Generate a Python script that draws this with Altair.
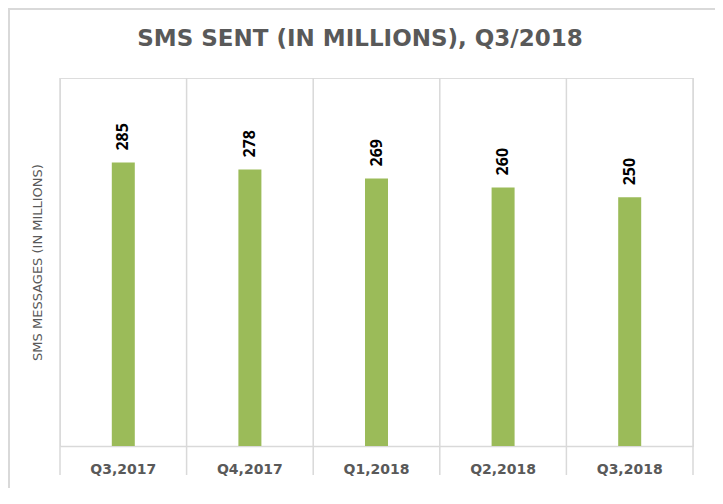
import altair as alt
import pandas as pd

quarters = ["Q3,2017", "Q4,2017", "Q1,2018", "Q2,2018", "Q3,2018"]
sms_millions = [285, 278, 269, 260, 250]
chart_title = "SMS SENT (IN MILLIONS), Q3/2018"
y_title = "SMS MESSAGES (IN MILLIONS)"

df = pd.DataFrame({"quarter": quarters, "sms": sms_millions})
one = pd.DataFrame({"k": [0]})

W, H = 633, 368
GRID = "#D9D9D9"
TEXT = "#595959"
BAR = "#9BBB59"

x_axis = alt.Axis(title=None, ticks=False, grid=False, domainColor=GRID, domainWidth=1.5,
                  labelFont="DejaVu Sans", labelFontWeight="bold", labelFontSize=14,
                  labelColor=TEXT, labelPadding=23, labelAngle=0, labelBaseline="middle")
x_scale = alt.Scale(paddingInner=0, paddingOuter=0)
y_scale = alt.Scale(domain=[0, 370], nice=False)
y_axis = alt.Axis(title=y_title, labels=False, ticks=False, domain=False, grid=False,
                  titleFont="DejaVu Sans", titleFontWeight="normal", titleFontSize=13,
                  titleColor=TEXT, titleAngle=270, titleX=-23, titleY=H / 2,
                  titleAlign="center", titleBaseline="middle")

x_enc = alt.X("quarter:N", sort=quarters, scale=x_scale, axis=x_axis)
y_enc = alt.Y("sms:Q", scale=y_scale, axis=y_axis)

base = alt.Chart(df)

rules = base.mark_rule(color=GRID, strokeWidth=1.5).encode(
    x=alt.X("quarter:N", sort=quarters, scale=x_scale, axis=x_axis, bandPosition=0),
    y=alt.value(0), y2=alt.value(397))
right_rule = alt.Chart(one).mark_rule(color=GRID, strokeWidth=1.5).encode(
    x=alt.value(W), y=alt.value(0), y2=alt.value(397))

bars = base.mark_bar(size=23, color=BAR).encode(x=x_enc, y=y_enc)
labels = base.mark_text(angle=270, align="left", baseline="middle", dx=12,
                        font="Open Sans", fontWeight="bold", fontSize=16, color="black").encode(
    x=x_enc, y=y_enc, text="sms:Q")

title = alt.Chart(one).mark_text(font="DejaVu Sans", fontWeight="bold", fontSize=23,
                                 color=TEXT, align="center", baseline="alphabetic").encode(
    x=alt.value(300), y=alt.value(-32), text=alt.value(chart_title))

border_top = alt.Chart(one).mark_rule(color=GRID, strokeWidth=2).encode(
    x=alt.value(-51), x2=alt.value(W + 22), y=alt.value(-69))
border_left = alt.Chart(one).mark_rule(color=GRID, strokeWidth=2).encode(
    x=alt.value(-51), y=alt.value(-70), y2=alt.value(H + 42))

chart = alt.layer(border_top, border_left, rules, right_rule, bars, labels, title).properties(
    width=W, height=H,
    autosize=alt.AutoSizeParams(type="none"),
    padding={"left": 52, "top": 70, "right": 22, "bottom": 42},
).configure_view(strokeWidth=0).configure(background="white")

chart.save("out.html", embed_options={"renderer": "svg", "actions": False})
